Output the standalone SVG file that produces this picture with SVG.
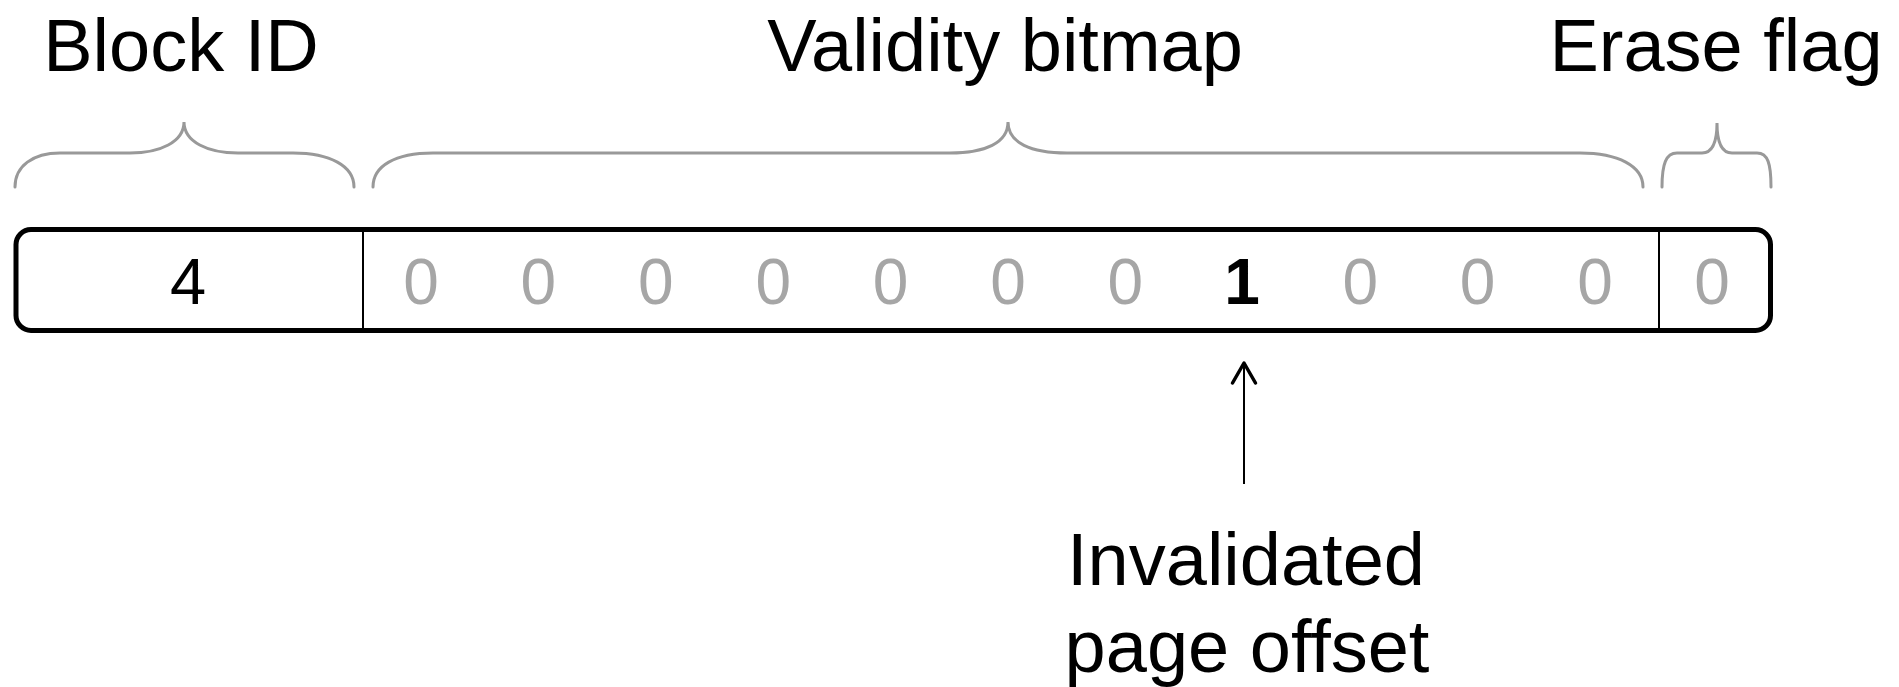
<svg xmlns="http://www.w3.org/2000/svg" width="1899" height="687" viewBox="0 0 1899 687">
<style>
  .lbl{font-family:"Liberation Sans",Arial,sans-serif;font-size:74px;fill:#000;text-anchor:middle}
  .bit{font-family:"Liberation Sans",Arial,sans-serif;font-size:64px;fill:#a6a6a6;text-anchor:middle}
  .id{font-family:"Liberation Sans",Arial,sans-serif;font-size:65px;fill:#000;text-anchor:middle}
  .hot{font-family:"Liberation Sans",Arial,sans-serif;font-size:64px;font-weight:bold;fill:#000;text-anchor:middle}
  .brace{fill:none;stroke:#999;stroke-width:3;stroke-linecap:round}
  .div{stroke:#000;stroke-width:2}
</style>
<defs>
  <marker id="arr" markerUnits="userSpaceOnUse" markerWidth="26" markerHeight="26" refX="22" refY="13" orient="auto" viewBox="0 0 26 26" overflow="visible">
    <polyline points="2,1.5 22,13 2,24.5" fill="none" stroke="#000" stroke-width="3.5" stroke-linecap="round" stroke-linejoin="round"/>
  </marker>
</defs>
<rect width="1899" height="687" fill="#fff"/>
<g id="labels">
  <text class="lbl" x="181" y="71">Block ID</text>
  <text class="lbl" x="1005" y="71">Validity bitmap</text>
  <text class="lbl" x="1716" y="71">Erase flag</text>
</g>
<g id="braces">
  <path class="brace" d="M15,187 C15,166 33,153 60,153 L130,153 C160,153 184,142 184,122 C184,142 208,153 238,153 L293,153 C330,153 354,166 354,187"/>
  <path class="brace" d="M373,187 C373,166 395,153 433,153 L950,153 C985,153 1008,143 1008,122 C1008,143 1031,153 1067,153 L1580,153 C1618,153 1643,166 1643,187"/>
  <path class="brace" d="M1662,187 C1662,164 1666,153 1677,153 L1702,153 C1711,153 1717,144 1717,123 C1717,144 1723,153 1732,153 L1757,153 C1768,153 1771,164 1771,187"/>
</g>
<g id="record">
  <rect x="16" y="229.5" width="1754.5" height="101" rx="15" fill="#fff" stroke="#000" stroke-width="5"/>
  <line class="div" x1="363" y1="230" x2="363" y2="330"/>
  <line class="div" x1="1659" y1="230" x2="1659" y2="330"/>
</g>
<g id="block-id">
  <text class="id" x="188" y="304">4</text>
</g>
<g id="validity-bitmap">
  <text class="bit" x="421" y="304">0</text>
  <text class="bit" x="538.4" y="304">0</text>
  <text class="bit" x="655.8" y="304">0</text>
  <text class="bit" x="773.2" y="304">0</text>
  <text class="bit" x="890.6" y="304">0</text>
  <text class="bit" x="1008" y="304">0</text>
  <text class="bit" x="1125.4" y="304">0</text>
  <text class="hot" x="1242" y="304">1</text>
  <text class="bit" x="1360.2" y="304">0</text>
  <text class="bit" x="1477.6" y="304">0</text>
  <text class="bit" x="1595" y="304">0</text>
</g>
<g id="erase-flag">
  <text class="bit" x="1712" y="304">0</text>
</g>
<g id="connectors">
  <line x1="1244" y1="484" x2="1244" y2="363" stroke="#000" stroke-width="2" marker-end="url(#arr)"/>
</g>
<g id="note">
  <text class="lbl" x="1246" y="585">Invalidated</text>
  <text class="lbl" x="1247" y="672">page offset</text>
</g>
</svg>
